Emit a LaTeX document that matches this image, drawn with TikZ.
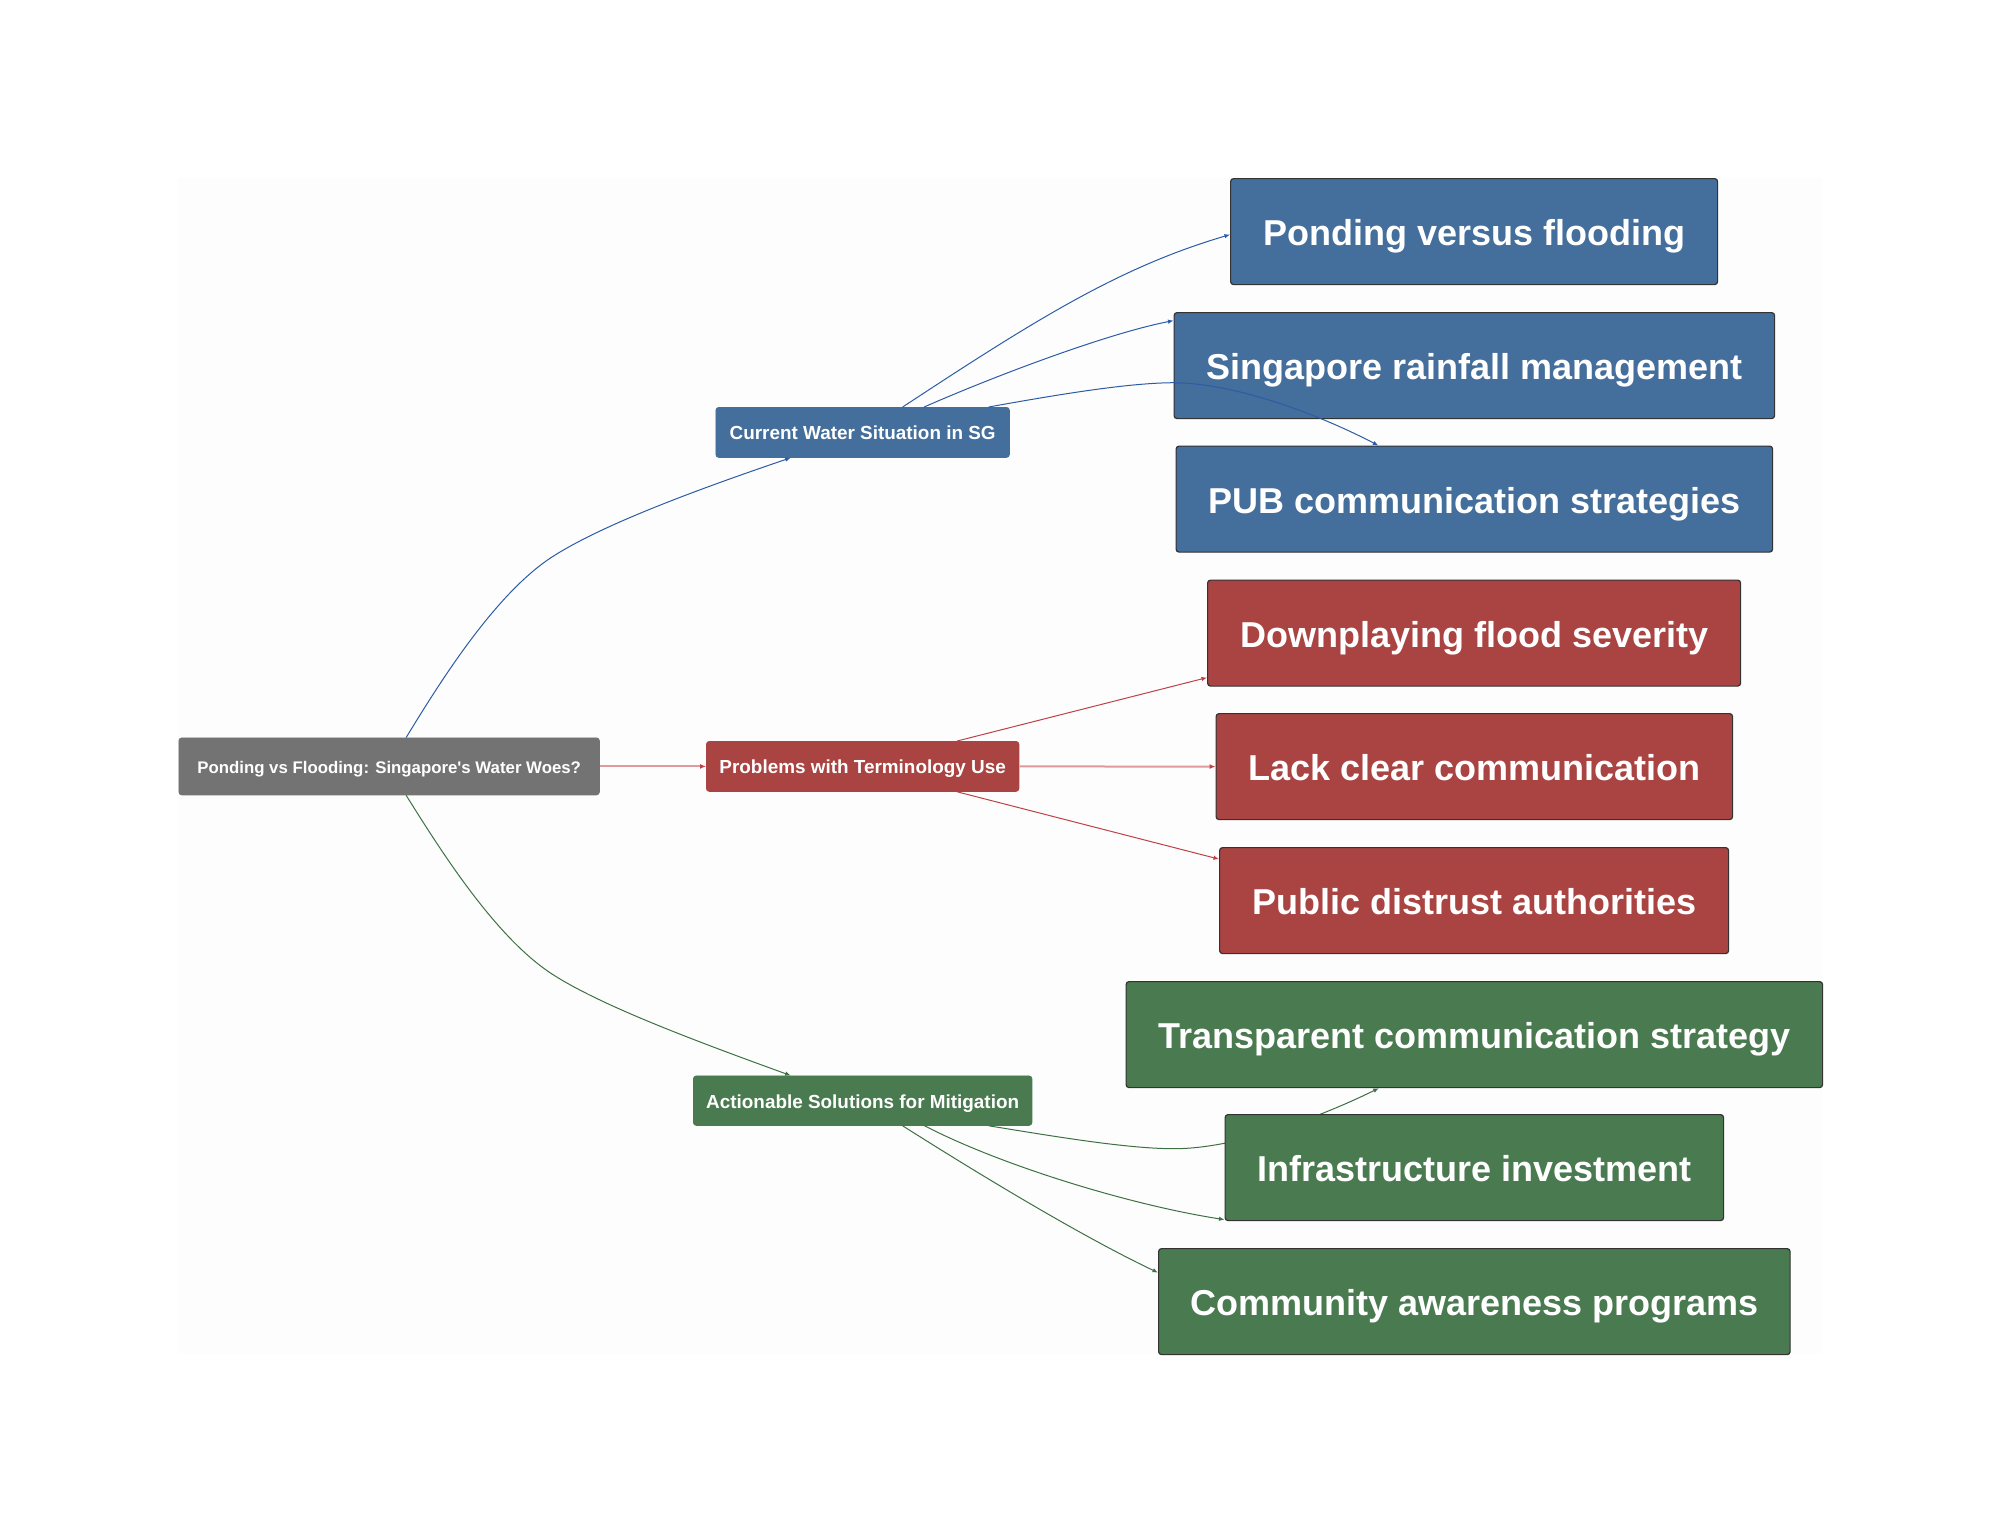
\documentclass[tikz,border=0pt]{standalone}
\usepackage{fontspec}
\setmainfont{Liberation Sans}
\usetikzlibrary{arrows.meta}
\definecolor{blueN}{HTML}{446E9B}
\definecolor{redN}{HTML}{A94442}
\definecolor{greenN}{HTML}{4A7A4F}
\definecolor{grayN}{HTML}{737373}
\definecolor{blueE}{HTML}{2C5CA6}
\definecolor{redE}{HTML}{BE4145}
\definecolor{greenE}{HTML}{3E7044}
\definecolor{paleR}{HTML}{DE9A9C}
\definecolor{paper}{HTML}{FDFDFD}
\tikzset{
  box/.style={draw, rounded corners=3pt, inner sep=0pt, anchor=north west, text=white, align=center},
  small/.style={box, line width=0.8pt, text height=17pt, text depth=2pt, font=\fontsize{18.9}{22}\bfseries},
  rootbox/.style={small, font=\fontsize{16.8}{22}\bfseries},
  large/.style={box, draw=black!80, line width=1.2pt, text height=30pt, text depth=2pt, font=\fontsize{36}{44}\bfseries},
  link/.style={line width=1pt, -{Latex[length=5.5pt,width=4.5pt]}},
  bl/.style={link, draw=blueE},
  rd/.style={link, draw=redE},
  gn/.style={link, draw=greenE},
  pale/.style={line width=2pt, draw=paleR, -{Latex[length=6pt,width=5pt,color=redE]}}
}
\newcommand{\bx}[7]{%
  \node[#2, fill=#3, draw=#3, minimum width=#6pt-#4pt, minimum height=#7pt-#5pt] (#1) at (#4,#5)}
\newcommand{\lbx}[7]{%
  \node[#2, fill=#3, minimum width=#6pt-#4pt, minimum height=#7pt-#5pt] (#1) at (#4,#5)}
\begin{document}
\begin{tikzpicture}[x=1pt,y=-1pt]
\useasboundingbox (0,0) rectangle (2000,1532);
\fill[white] (0,0) rectangle (2000,1532);
\fill[paper] (178,178) rectangle (1822,1354);
% nodes that lie under their edges
\bx{root}{rootbox}{grayN}{178.5}{737.5}{599}{794.5} {Ponding vs Flooding: Singapore\textquotesingle s Water Woes?};
\bx{cur}{small}{blueN}{715.5}{407}{1009}{457} {Current Water Situation in SG};
\bx{prob}{small}{redN}{706}{741}{1018.5}{791} {Problems with Terminology Use};
\bx{act}{small}{greenN}{693}{1075.5}{1031.5}{1125} {Actionable Solutions for Mitigation};
\lbx{pon}{large}{blueN}{1230}{178}{1717}{284} {Ponding versus flooding};
\lbx{sin}{large}{blueN}{1173.5}{312}{1774}{418} {Singapore rainfall management};
\lbx{pub}{large}{blueN}{1175.5}{445.5}{1772}{551.5} {PUB communication strategies};
\lbx{dow}{large}{redN}{1207}{579.5}{1740}{685.5} {Downplaying flood severity};
\lbx{lac}{large}{redN}{1215.5}{713}{1732}{819} {Lack clear communication};
\lbx{pubd}{large}{redN}{1219}{847}{1728}{953} {Public distrust authorities};
\lbx{tra}{large}{greenN}{1125.5}{981}{1822}{1087} {Transparent communication strategy};
% this edge passes behind the Infrastructure box
\draw[gn] ([xshift=-43.5pt]act.south east) .. controls +(62,10) and (1125,1148.5) .. (1173,1148.7)
  .. controls (1235,1149) and (1318,1118) .. ([xshift=-95.5pt]tra.south);
\lbx{inf}{large}{greenN}{1224.5}{1114}{1723}{1220} {Infrastructure investment};
\lbx{com}{large}{greenN}{1158}{1248}{1789.5}{1354} {Community awareness programs};
% root edges
\draw[bl] ([xshift=17pt]root.north) .. controls (440,682) and (495,594) .. (552,557)
  .. controls (600,526) and (690,492) .. ([xshift=-72pt]cur.south);
\draw[pale] (root.east) -- (prob.west);
\draw[gn] ([xshift=17pt]root.south) .. controls (440,849.4) and (495,937) .. (552,974)
  .. controls (600,1005) and (690,1039) .. ([xshift=-72pt]act.north);
% current
\draw[bl] ([xshift=40pt]cur.north) .. controls (1038,318) and (1120,267) .. ([yshift=-3pt]pon.west);
\draw[bl] ([xshift=61.5pt]cur.north) .. controls (990,378) and (1105,334) .. ([yshift=45pt]sin.west);
\draw[bl] ([xshift=126pt]cur.north) .. controls (1050,396) and (1125,383) .. (1173,382.7)
  .. controls (1235,383) and (1318,414) .. ([xshift=-96pt]pub.north);
% problems
\draw[rd] ([xshift=94.5pt]prob.north) -- ([yshift=-44.5pt]dow.west);
\draw[pale] (prob.east) -- (lac.west);
\draw[rd] ([xshift=94.5pt]prob.south) -- ([yshift=41.5pt]pubd.west);
% actionable
\draw[gn] ([xshift=62pt]act.south) .. controls (1000,1165) and (1130,1205) .. ([yshift=-52pt]inf.west);
\draw[gn] ([xshift=40pt]act.south) .. controls (985,1178) and (1085,1238) .. ([yshift=29pt]com.west);
\end{tikzpicture}
\end{document}
